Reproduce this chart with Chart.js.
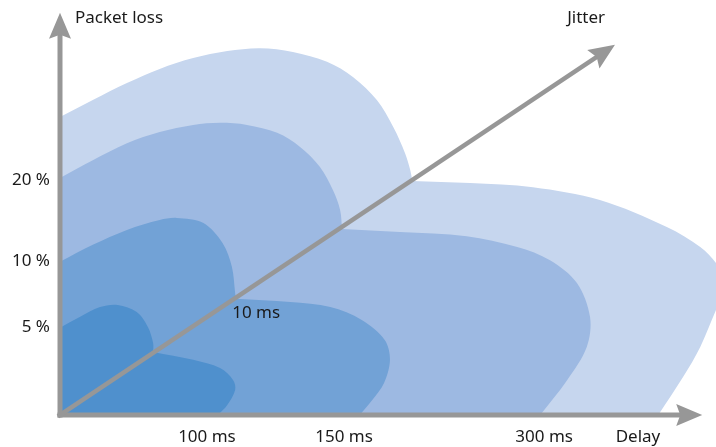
<!DOCTYPE html>
<html>
<head>
<meta charset="utf-8">
<title>Delay / packet loss / jitter zones</title>
<script src="https://cdn.jsdelivr.net/npm/chart.js@4.4.1/dist/chart.umd.min.js"></script>
<style>
  html, body { margin: 0; padding: 0; background: #fff; }
  #wrap { width: 716px; height: 447px; }
</style>
</head>
<body>
<div id="wrap"><canvas id="qosChart" width="716" height="447"></canvas></div>
<script>
// zone outlines, [delay, packet loss] in axis units (0-100)
// each one: origin, up the loss axis, over the upper lobe, then the lower lobe out to the delay axis
const zone1 = [[0, 0], [0, 21.0], [3.0, 23.6], [6.1, 26.0], [8.8, 26.5], [11.7, 24.8], [13.4, 21.2], [14.2, 17.3],
  [14.2, 15.2], [20.3, 13.3], [24.4, 11.3], [26.4, 8.4], [26.7, 6.0], [25.5, 2.4], [24.1, 0]];
const zone2 = [[0, 0], [0, 36.9], [5.0, 41.0], [10.2, 44.6], [15.2, 47.0], [17.8, 47.5], [21.8, 46.3], [24.8, 41.4],
  [26.2, 35.7], [26.7, 29.4], [26.8, 28.0], [35.1, 27.2], [41.2, 26.0], [46.0, 22.9], [49.5, 18.1], [50.3, 13.3],
  [49.4, 7.7], [47.6, 3.6], [45.7, 0]];
const zone3 = [[0, 0], [0, 57.1], [5.0, 61.4], [10.2, 65.5], [15.2, 68.2], [20.3, 69.9], [24.4, 70.4], [28.5, 69.9],
  [33.1, 68.0], [36.6, 64.6], [39.6, 59.8], [41.6, 54.2], [42.7, 49.4], [43.0, 44.8], [51.8, 44.1], [62.0, 43.1],
  [69.7, 40.5], [74.7, 37.3], [78.8, 31.8], [80.8, 23.6], [80.3, 16.4], [77.3, 8.4], [73.2, 0]];
const zone4 = [[0, 0], [0, 71.8], [5.0, 75.9], [10.2, 80.0], [15.2, 83.4], [20.3, 86.0], [25.5, 87.7], [30.5, 88.4],
  [35.5, 87.5], [40.7, 85.1], [44.7, 81.4], [48.3, 75.9], [50.8, 69.4], [52.6, 63.1], [53.4, 59.0], [53.7, 56.4],
  [62.5, 55.9], [72.1, 54.9], [82.3, 51.8], [92.5, 45.3], [97.6, 40.5], [100.0, 36.6], [101.8, 31.3], [100.0, 25.3],
  [97.6, 16.4], [95.0, 9.2], [91.2, 0]];
// indexes of the sharp corners (top of loss axis, join of the two lobes)
const zoneCorners = [[1, 8], [1, 10], [1, 13], [1, 15]];

const lossTicks = [21.1, 37.0, 56.6];
const lossLabels = ['5 %', '10 %', '20 %'];
const delayTicks = [22.4, 43.3, 73.8];
const delayLabels = ['100 ms', '150 ms', '300 ms'];
const jitterTicks = [[29.9, 24.6]];
const jitterLabels = ['10 ms'];
const axisNames = ['Packet loss', 'Delay', 'Jitter'];

const zones = [zone1, zone2, zone3, zone4];
const zoneColors = ['#4f90cd', '#72a2d6', '#9db9e2', '#c6d6ee'];
const axisColor = '#979797';
const textColor = '#1a1a1a';

// repeat a corner point so the spline turns sharply there
function withCorners(pts, corners) {
  const out = [];
  pts.forEach((p, i) => {
    out.push({ x: p[0], y: p[1] });
    if (corners.includes(i)) out.push({ x: p[0], y: p[1] });
  });
  return out;
}

function drawArrow(ctx, x0, y0, x1, y1, w) {
  const ang = Math.atan2(y1 - y0, x1 - x0);
  const len = Math.hypot(x1 - x0, y1 - y0);
  ctx.save();
  ctx.translate(x0, y0);
  ctx.rotate(ang);
  ctx.fillStyle = axisColor;
  ctx.fillRect(-2.5, -w / 2, len - 18, w);
  ctx.beginPath();
  ctx.moveTo(len, 0);
  ctx.lineTo(len - 26, -11);
  ctx.lineTo(len - 22, 0);
  ctx.lineTo(len - 26, 11);
  ctx.closePath();
  ctx.fill();
  ctx.restore();
}

// the built-in filler clips to the x range, so close each outline and fill it here
const zoneFill = {
  id: 'zoneFill',
  beforeDatasetDraw(chart, args) {
    const line = args.meta.dataset;
    const area = chart.chartArea;
    const ctx = chart.ctx;
    line.updateControlPoints(area, 'x');
    ctx.save();
    ctx.beginPath();
    ctx.rect(area.left, area.top, area.right - area.left, area.bottom - area.top);
    ctx.clip();
    ctx.beginPath();
    line.path(ctx);
    ctx.closePath();
    ctx.fillStyle = zoneColors[args.index];
    ctx.fill();
    ctx.restore();
  }
};

const axesPlugin = {
  id: 'qosAxes',
  afterDatasetsDraw(chart) {
    const { ctx, scales: { x, y } } = chart;
    const ox = x.getPixelForValue(0), oy = y.getPixelForValue(0);
    // delay, packet loss, jitter
    drawArrow(ctx, ox, oy, x.getPixelForValue(97.9), oy, 5);
    drawArrow(ctx, ox, oy, ox, y.getPixelForValue(96.9), 5);
    drawArrow(ctx, ox, oy, x.getPixelForValue(84.6), y.getPixelForValue(89.2), 4.5);

    ctx.save();
    ctx.fillStyle = textColor;
    ctx.font = '17px "Noto Sans"';
    ctx.textAlign = 'center';
    ctx.textBaseline = 'middle';
    jitterTicks.forEach((t, i) => {
      ctx.fillText(jitterLabels[i], x.getPixelForValue(t[0]), y.getPixelForValue(t[1]));
    });
    const namePos = [[9.0, 95.7], [88.1, -5.3], [80.2, 95.7]];
    axisNames.forEach((n, i) => {
      ctx.fillText(n, x.getPixelForValue(namePos[i][0]), y.getPixelForValue(namePos[i][1]));
    });
    ctx.restore();
  }
};

Chart.defaults.font.family = '"Noto Sans", sans-serif';
Chart.defaults.font.size = 17;
Chart.defaults.color = textColor;

const ctx = document.getElementById('qosChart').getContext('2d');
const qosChart = new Chart(ctx, {
  type: 'line',
  data: {
    datasets: zones.map((pts, i) => ({
      data: withCorners(pts, zoneCorners[i]),
      fill: false,
      backgroundColor: zoneColors[i],
      borderColor: 'rgba(0,0,0,0)',
      borderWidth: 0,
      pointRadius: 0,
      tension: 0.33,
      capBezierPoints: false
    }))
  },
  options: {
    responsive: false,
    animation: false,
    events: [],
    layout: { padding: 0 },
    plugins: { legend: { display: false }, tooltip: { enabled: false } },
    scales: {
      x: {
        type: 'linear', min: 0, max: 100,
        grid: { display: false, drawTicks: false },
        border: { display: false },
        afterBuildTicks: s => { s.ticks = delayTicks.map(v => ({ value: v })); },
        afterFit: s => { s.height = 32; s.paddingLeft = 0; s.paddingRight = 0; },
        ticks: { padding: 12, autoSkip: false, maxRotation: 0, callback: (v, i) => delayLabels[i] }
      },
      y: {
        type: 'linear', min: 0, max: 100,
        grid: { display: false, drawTicks: false },
        border: { display: false },
        afterBuildTicks: s => { s.ticks = lossTicks.map(v => ({ value: v })); },
        afterFit: s => { s.width = 60; s.paddingTop = 0; s.paddingBottom = 0; },
        ticks: { padding: 10, autoSkip: false, callback: (v, i) => lossLabels[i] }
      }
    }
  },
  plugins: [zoneFill, axesPlugin]
});
</script>
</body>
</html>
